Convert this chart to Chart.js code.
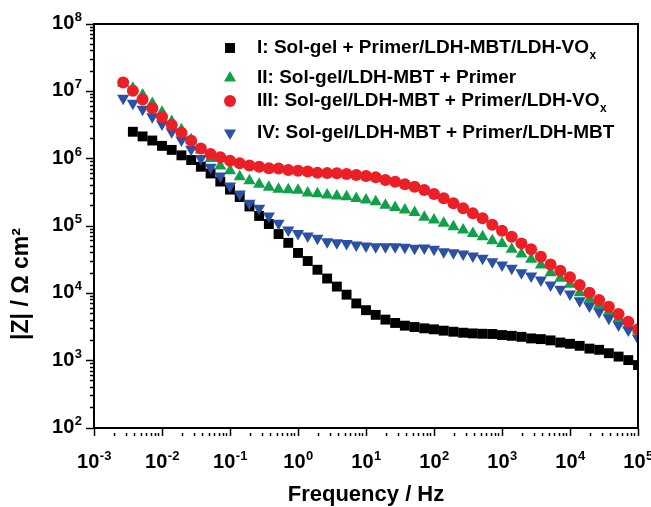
<!DOCTYPE html>
<html>
<head>
<meta charset="utf-8">
<script src="https://cdn.jsdelivr.net/npm/chart.js@4.4.1/dist/chart.umd.min.js"></script>
<style>
html,body{margin:0;padding:0;background:#fff;}
#wrap{width:651px;height:507px;position:relative;}
</style>
</head>
<body>
<div id="wrap"><canvas id="c" width="651" height="507"></canvas></div>
<script>
// ---- data (frequency in Hz, |Z| in Ohm cm^2) ----
const frequency = [
  2.683e-3, 3.728e-3, 5.179e-3, 7.197e-3,
  1e-2, 1.389e-2, 1.931e-2, 2.683e-2, 3.728e-2, 5.179e-2, 7.197e-2,
  1e-1, 1.389e-1, 1.931e-1, 2.683e-1, 3.728e-1, 5.179e-1, 7.197e-1,
  1, 1.389, 1.931, 2.683, 3.728, 5.179, 7.197,
  10, 13.89, 19.31, 26.83, 37.28, 51.79, 71.97,
  100, 138.9, 193.1, 268.3, 372.8, 517.9, 719.7,
  1000, 1389, 1931, 2683, 3728, 5179, 7197,
  1e4, 1.389e4, 1.931e4, 2.683e4, 3.728e4, 5.179e4, 7.197e4,
  1e5
];
const zI = [
  null, 2.51e6, 2.14e6, 1.86e6, 1.55e6, 1.35e6, 1.12e6, 9.55e5, 7.59e5, 6.03e5, 4.57e5,
  3.47e5, 2.69e5, 1.95e5, 1.41e5, 1.07e5, 7.59e4, 5.62e4, 3.98e4, 3.02e4, 2.24e4,
  1.66e4, 1.26e4, 9.55e3, 7.08e3, 5.62e3, 4.79e3, 4.07e3, 3.63e3, 3.31e3, 3.16e3,
  3.02e3, 2.92e3, 2.79e3, 2.69e3, 2.60e3, 2.54e3, 2.51e3, 2.49e3, 2.40e3, 2.34e3,
  2.26e3, 2.14e3, 2.09e3, 2.00e3, 1.86e3, 1.78e3, 1.66e3, 1.51e3, 1.45e3, 1.29e3,
  1.15e3, 1.02e3, 8.61e2
];
const zII = [
  1.32e7, 1.11e7, 8.81e6, 6.61e6, 4.90e6, 3.55e6, 2.69e6, 1.91e6, 1.35e6, 1.01e6,
  7.76e5, 6.61e5, 5.37e5, 4.68e5, 4.17e5, 3.76e5, 3.51e5, 3.45e5, 3.40e5, 3.09e5,
  3.02e5, 2.88e5, 2.79e5, 2.72e5, 2.57e5, 2.43e5, 2.29e5, 2.04e5, 1.89e5, 1.73e5,
  1.58e5, 1.35e5, 1.23e5, 1.10e5, 9.77e4, 8.71e4, 7.76e4, 6.92e4, 6.03e4, 5.50e4,
  4.50e4, 3.84e4, 3.20e4, 2.63e4, 2.02e4, 1.67e4, 1.37e4, 1.02e4, 8.15e3, 6.71e3,
  5.33e3, 4.26e3, 3.39e3, 2.75e3
];
const zIII = [
  1.35e7, 1.02e7, 7.59e6, 5.62e6, 4.17e6, 3.16e6, 2.43e6, 1.85e6, 1.42e6, 1.17e6,
  1.05e6, 9.33e5, 8.53e5, 7.94e5, 7.60e5, 7.19e5, 7.15e5, 6.79e5, 6.64e5, 6.46e5,
  6.19e5, 6.10e5, 6.05e5, 5.92e5, 5.71e5, 5.52e5, 5.28e5, 4.82e5, 4.55e5, 4.16e5,
  3.84e5, 3.43e5, 2.99e5, 2.58e5, 2.17e5, 1.83e5, 1.54e5, 1.30e5, 1.04e5, 8.51e4,
  6.93e4, 5.52e4, 4.50e4, 3.50e4, 2.69e4, 2.17e4, 1.73e4, 1.33e4, 1.02e4, 7.96e3,
  6.34e3, 4.93e3, 3.79e3, 2.92e3
];
const zIV = [
  7.87e6, 6.64e6, 5.41e6, 4.20e6, 3.27e6, 2.51e6, 1.89e6, 1.38e6, 1.01e6, 7.43e5,
  5.52e5, 3.93e5, 2.99e5, 2.17e5, 1.83e5, 1.41e5, 1.10e5, 8.71e4, 7.76e4, 7.08e4,
  6.56e4, 5.85e4, 5.65e4, 5.52e4, 5.22e4, 5.05e4, 4.93e4, 4.93e4, 4.90e4, 4.82e4,
  4.66e4, 4.70e4, 4.50e4, 4.16e4, 4.02e4, 3.84e4, 3.58e4, 3.31e4, 2.95e4, 2.63e4,
  2.36e4, 2.02e4, 1.81e4, 1.58e4, 1.33e4, 1.15e4, 9.77e3, 7.78e3, 6.49e3, 5.33e3,
  4.26e3, 3.39e3, 2.85e3, 2.15e3
];
const seriesNames = [
  ['I: Sol-gel + Primer/LDH-MBT/LDH-VO', 'x'],
  ['II: Sol-gel/LDH-MBT + Primer', ''],
  ['III: Sol-gel/LDH-MBT + Primer/LDH-VO', 'x'],
  ['IV: Sol-gel/LDH-MBT + Primer/LDH-MBT', '']
];
const xTickExponents = [-3, -2, -1, 0, 1, 2, 3, 4, 5];
const yTickExponents = [2, 3, 4, 5, 6, 7, 8];
const xTitle = 'Frequency / Hz';
const yTitle = '|Z| / \u03A9 cm\u00B2';

// ---- helpers ----
function pts(z) {
  const out = [];
  for (let i = 0; i < frequency.length; i++) {
    if (z[i] != null) out.push({ x: frequency[i], y: z[i] });
  }
  return out;
}
function logTicks(exps) {
  const t = [];
  for (let i = 0; i < exps.length; i++) {
    const base = Math.pow(10, exps[i]);
    t.push({ value: base, major: true });
    if (i < exps.length - 1) {
      for (let m = 2; m <= 9; m++) t.push({ value: m * base, major: false });
    }
  }
  return t;
}
function isMajorVal(v) {
  const l = Math.log10(v);
  return Math.abs(l - Math.round(l)) < 1e-6;
}
const FONT = '"Liberation Sans", Arial, Helvetica, sans-serif';

const styles = [
  { color: '#000000', pointStyle: 'rect', radius: 7, rotation: 0, order: 3 },
  { color: '#0fa14a', pointStyle: 'triangle', radius: 7, rotation: 0, order: 2 },
  { color: '#ec1f26', pointStyle: 'circle', radius: 6, rotation: 0, order: 0 },
  { color: '#2c50a3', pointStyle: 'triangle', radius: 7, rotation: 180, order: 1 }
];
const seriesData = [zI, zII, zIII, zIV];

const datasets = seriesData.map((z, i) => ({
  label: seriesNames[i][0] + seriesNames[i][1],
  data: pts(z),
  showLine: false,
  pointStyle: styles[i].pointStyle,
  pointRadius: styles[i].radius,
  pointHoverRadius: styles[i].radius,
  pointRotation: styles[i].rotation,
  backgroundColor: styles[i].color,
  borderColor: styles[i].color,
  pointBorderWidth: 0,
  borderWidth: 0,
  order: styles[i].order
}));

function drawMarker(ctx, st, x, y) {
  ctx.save();
  ctx.fillStyle = st.color;
  if (Chart.helpers && Chart.helpers.drawPoint) {
    Chart.helpers.drawPoint(ctx, { pointStyle: st.pointStyle, radius: st.radius, rotation: st.rotation, borderWidth: 0 }, x, y);
  } else {
    ctx.beginPath();
    if (st.pointStyle === 'circle') ctx.arc(x, y, st.radius, 0, Math.PI * 2);
    else if (st.pointStyle === 'rect') { const s = st.radius * Math.SQRT1_2; ctx.rect(x - s, y - s, 2 * s, 2 * s); }
    else {
      let rad = st.rotation * Math.PI / 180;
      for (let k = 0; k < 3; k++) {
        const px = x + Math.sin(rad) * st.radius, py = y - Math.cos(rad) * st.radius;
        if (k === 0) ctx.moveTo(px, py); else ctx.lineTo(px, py);
        rad += 2 * Math.PI / 3;
      }
      ctx.closePath();
    }
    ctx.fill();
  }
  ctx.restore();
}

const decorPlugin = {
  id: 'decor',
  afterDraw(chart) {
    const ctx = chart.ctx;
    const a = chart.chartArea;
    const xs = chart.scales.x, ys = chart.scales.y;
    ctx.save();
    // top and right frame lines
    ctx.strokeStyle = '#000';
    ctx.lineWidth = 2;
    ctx.beginPath();
    ctx.moveTo(a.left - 1, a.top);
    ctx.lineTo(a.right, a.top);
    ctx.lineTo(a.right, a.bottom + 1);
    ctx.stroke();

    ctx.fillStyle = '#000';
    const baseFont = 'bold 20px ' + FONT;
    const expFont = 'bold 13px ' + FONT;
    // x tick labels
    xTickExponents.forEach(e => {
      const px = xs.getPixelForValue(Math.pow(10, e));
      ctx.font = baseFont;
      const wb = ctx.measureText('10').width;
      ctx.font = expFont;
      const we = ctx.measureText(String(e)).width;
      const x0 = px - (wb + we) / 2;
      const by = a.bottom + 40;
      ctx.textAlign = 'left';
      ctx.textBaseline = 'alphabetic';
      ctx.font = baseFont;
      ctx.fillText('10', x0, by);
      ctx.font = expFont;
      ctx.fillText(String(e), x0 + wb + 0.5, by - 8);
    });
    // y tick labels
    yTickExponents.forEach(e => {
      const py = ys.getPixelForValue(Math.pow(10, e));
      ctx.font = expFont;
      const we = ctx.measureText(String(e)).width;
      const xr = a.left - 12;
      ctx.textAlign = 'left';
      ctx.textBaseline = 'alphabetic';
      ctx.fillText(String(e), xr - we, py - 3);
      ctx.font = baseFont;
      ctx.textAlign = 'right';
      ctx.fillText('10', xr - we - 0.5, py + 5);
    });
    // axis titles
    ctx.font = 'bold 22px ' + FONT;
    ctx.textAlign = 'center';
    ctx.textBaseline = 'middle';
    ctx.fillText(xTitle, (a.left + a.right) / 2, 495);
    ctx.save();
    ctx.translate(22, 284);
    ctx.rotate(-Math.PI / 2);
    ctx.font = 'bold 23px ' + FONT;
    ctx.fillText(yTitle, 0, 0);
    ctx.restore();

    // legend
    const rowsY = [48, 78, 101, 133];
    const markerX = 230, textX = 257;
    [0, 1, 2, 3].forEach((i, r) => {
      const y = rowsY[r];
      drawMarker(ctx, styles[i], markerX, y);
      ctx.fillStyle = '#000';
      ctx.font = 'bold 19px ' + FONT;
      ctx.textAlign = 'left';
      ctx.textBaseline = 'middle';
      const main = seriesNames[i][0];
      ctx.fillText(main, textX, y);
      if (seriesNames[i][1]) {
        const w = ctx.measureText(main).width;
        ctx.font = 'bold 12px ' + FONT;
        ctx.fillText(seriesNames[i][1], textX + w + 0.5, y + 8);
      }
    });
    ctx.restore();
  }
};

new Chart(document.getElementById('c'), {
  type: 'scatter',
  data: { datasets },
  options: {
    responsive: false,
    devicePixelRatio: 1,
    animation: false,
    events: [],
    layout: { padding: { left: 86, top: 24, right: 13, bottom: 71 } },
    plugins: { legend: { display: false }, tooltip: { enabled: false }, title: { display: false } },
    scales: {
      x: {
        type: 'logarithmic',
        position: 'bottom',
        min: 1e-3,
        max: 1e5,
        afterBuildTicks: s => { s.ticks = logTicks(xTickExponents); },
        ticks: { display: false, autoSkip: false },
        grid: {
          drawOnChartArea: false,
          drawTicks: true,
          tickLength: 8,
          tickWidth: 1.5,
          tickColor: '#000',
          tickBorderDash: c => (c.tick && isMajorVal(c.tick.value)) ? [] : [0, 4, 4, 100]
        },
        border: { display: true, color: '#000', width: 2 }
      },
      y: {
        type: 'logarithmic',
        position: 'left',
        min: 1e2,
        max: 1e8,
        afterBuildTicks: s => { s.ticks = logTicks(yTickExponents); },
        ticks: { display: false, autoSkip: false },
        grid: {
          drawOnChartArea: false,
          drawTicks: true,
          tickLength: 8,
          tickWidth: 1.5,
          tickColor: '#000',
          tickBorderDash: c => (c.tick && isMajorVal(c.tick.value)) ? [] : [0, 4, 4, 100]
        },
        border: { display: true, color: '#000', width: 2 }
      }
    }
  },
  plugins: [decorPlugin]
});
</script>
</body>
</html>
